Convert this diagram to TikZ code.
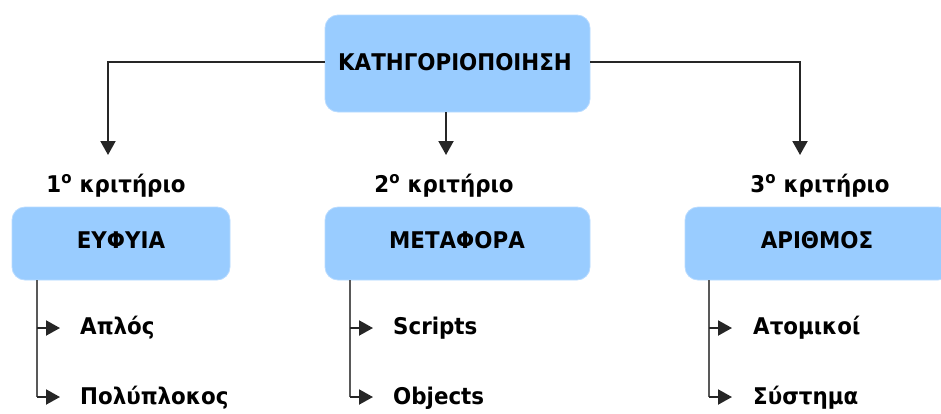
\documentclass[tikz,border=0pt]{standalone}
\usepackage{fontspec}
\setmainfont[FakeStretch=0.93]{DejaVu Sans}
\usetikzlibrary{arrows.meta}
\definecolor{boxblue}{HTML}{99CCFF}
\tikzset{
  px/.style={x=1pt,y=-1pt},
  catbox/.style={rectangle,rounded corners=13pt,fill=boxblue,draw=boxblue!70!white,line width=0.8pt,inner sep=0pt},
  lbl/.style={inner sep=0pt,font=\fontsize{23}{27}\selectfont\bfseries},
  conn/.style={draw=black!85,line width=2pt,-{Triangle[length=14pt,width=15pt]}},
  trunk/.style={draw=black!65,line width=2.4pt},
}
\begin{document}
\begin{tikzpicture}[px]
\useasboundingbox (0,0) rectangle (941,413);
\clip (0,0) rectangle (941,413);
% top box
\node[catbox,minimum width=265pt,minimum height=97pt] (top) at (457.5,63.5) {};
\node[lbl] (toptxt) at (455,62) {ΚΑΤΗΓΟΡΙΟΠΟΙΗΣΗ};
% criteria labels
\node[lbl] (c1) at (116,186) {1\textsuperscript{ο} κριτήριο};
\node[lbl] (c2) at (444,186) {2\textsuperscript{ο} κριτήριο};
\node[lbl] (c3) at (820,186) {3\textsuperscript{ο} κριτήριο};
% arrow ends
\coordinate (a1) at (108,155);
\coordinate (a2) at (446,155);
\coordinate (a3) at (800,155);
\coordinate (l1) at (108,62);
\coordinate (r1) at (800,62);
\draw[conn] (top.west |- toptxt) -- (l1) -- (a1);
\draw[conn] (top.east |- toptxt) -- (r1) -- (a3);
\draw[conn] (top.south -| a2) -- (a2);
% category boxes
\node[catbox,minimum width=218pt,minimum height=73pt] (b1) at (121,243.5) {};
\node[catbox,minimum width=265pt,minimum height=73pt] (b2) at (457.5,243.5) {};
\node[catbox,minimum width=266pt,minimum height=73pt] (b3) at (818,243.5) {};
\node[lbl] (t1) at (121,240) {ΕΥΦΥΙΑ};
\node[lbl] (t2) at (457,240) {ΜΕΤΑΦΟΡΑ};
\node[lbl] (t3) at (817,240) {ΑΡΙΘΜΟΣ};
% leaves
\node[lbl,anchor=west] (s11) at (80,328) {Απλός};
\node[lbl,anchor=west] (s12) at (80,398) {Πολύπλοκος};
\node[lbl,anchor=west] (s21) at (393,328) {Scripts};
\node[lbl,anchor=west] (s22) at (393,398) {Objects};
\node[lbl,anchor=west] (s31) at (753,328) {Ατομικοί};
\node[lbl,anchor=west] (s32) at (753,398) {Σύστημα};
% trunks
\coordinate (k1) at (37,397);
\coordinate (k2) at (350,397);
\coordinate (k3) at (709,397);
\draw[trunk] (b1.south -| k1) -- (k1);
\draw[trunk] (b2.south -| k2) -- (k2);
\draw[trunk] (b3.south -| k3) -- (k3);
\draw[conn] (k1 |- s11) -- ([xshift=-20pt]s11.west);
\draw[conn] (k1) -- ([xshift=-20pt]s12.west |- k1);
\draw[conn] (k2 |- s21) -- ([xshift=-20pt]s21.west);
\draw[conn] (k2) -- ([xshift=-20pt]s22.west |- k2);
\draw[conn] (k3 |- s31) -- ([xshift=-21pt]s31.west);
\draw[conn] (k3) -- ([xshift=-21pt]s32.west |- k3);
\end{tikzpicture}
\end{document}
